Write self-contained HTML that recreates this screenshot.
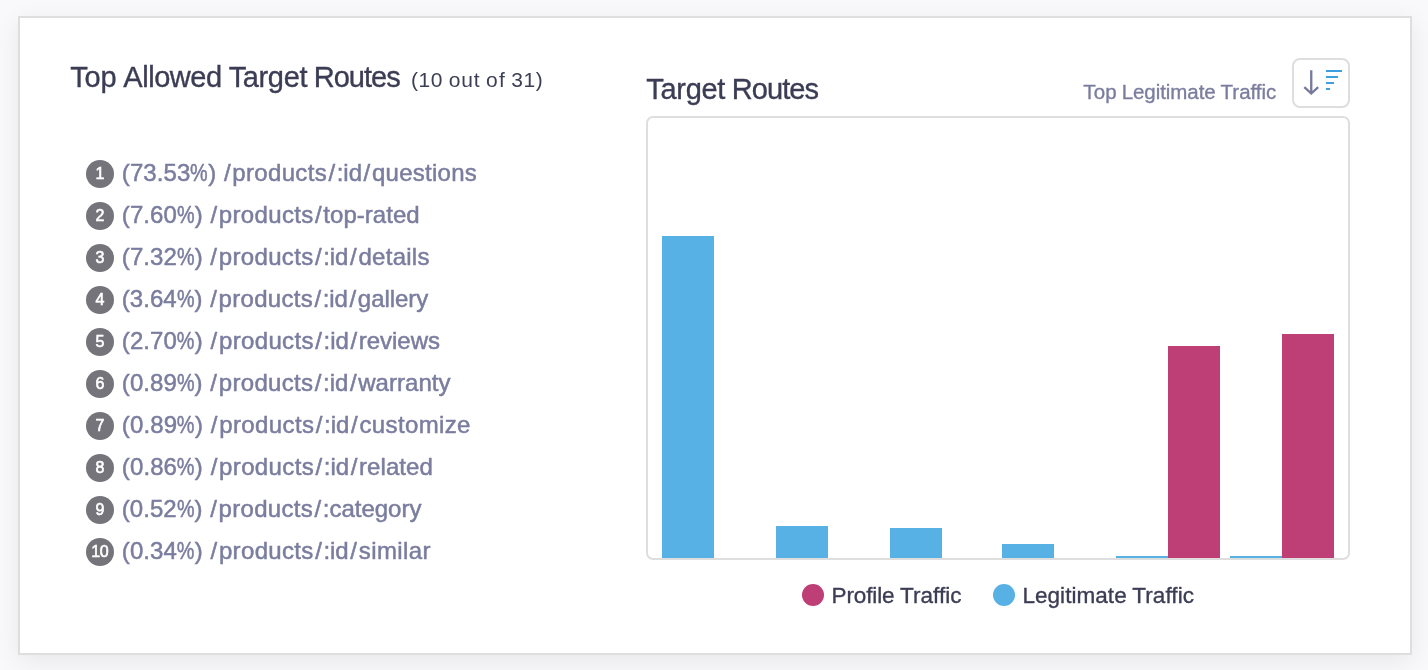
<!DOCTYPE html>
<html lang="en">
<head>
<meta charset="utf-8">
<title>Top Allowed Target Routes</title>
<style>
  html, body { margin: 0; padding: 0; }
  body {
    width: 1428px; height: 670px; overflow: hidden; position: relative;
    background: #f9f9fb;
    font-family: "Liberation Sans", sans-serif;
    color: #3b3d54;
    -webkit-text-stroke: 0.35px currentColor;
  }
  .card {
    position: absolute; left: 18px; top: 16px; width: 1390px; height: 635px;
    background: #fff; border: 2px solid #dedede;
    box-shadow: 0 6px 24px rgba(0,0,10,0.075);
  }
  .abs { position: absolute; white-space: nowrap; }
  .sx { display: inline-block; white-space: nowrap; }
  h2 { margin: 0; font-weight: normal; }
  .title-left { left: 70px; top: 60px; font-size: 28px; line-height: 34px; }
  .count { left: 412px; top: 64px; font-size: 22px; line-height: 30px; -webkit-text-stroke-width: 0; color: #3c3e55; }
  .title-right { left: 646px; top: 72px; font-size: 28px; line-height: 34px; }
  .sortlabel { left: 1082px; top: 78px; font-size: 20px; line-height: 28px; color: #7a7d9e; }
  .sortbtn {
    position: absolute; left: 1292px; top: 58px; width: 54px; height: 46px;
    border: 2px solid #dedede; border-radius: 8px; background: #fff;
  }
  .sortbtn svg { position: absolute; left: -2px; top: -2px; }
  .chart {
    position: absolute; left: 646px; top: 116px; width: 700px; height: 440px;
    border: 2px solid #dedede; border-radius: 7px; background: #fff; overflow: hidden;
  }
  .bar { position: absolute; bottom: 0; width: 52px; }
  .blue { background: #58b1e4; }
  .pink { background: #be3f76; }
  ol.routes { list-style: none; margin: 0; padding: 0; position: absolute; left: 86px; top: 153px; }
  ol.routes li { height: 42px; position: relative; white-space: nowrap; }
  .num {
    position: absolute; left: 0; top: 7px; width: 28px; height: 28px; border-radius: 50%;
    background: #75747b; color: #fff; font-size: 16px; line-height: 28px; text-align: center;
    -webkit-text-stroke: 0.6px #fff;
  }
  .n10 { letter-spacing: -0.3px; text-indent: -0.3px; }
  .route { position: absolute; left: 37px; top: 4px; font-size: 24px; line-height: 32px; color: #7a7d9e; -webkit-text-stroke-width: 0.5px; }
  .legend { top: 580px; font-size: 22px; line-height: 30px; }
  .dot { position: absolute; width: 22px; height: 22px; border-radius: 50%; top: 584px; }
</style>
</head>
<body>
<div class="card"></div>

<h2 class="abs title-left" style="margin-left:0.16px;margin-top:0px;font-size:29px"><span class="sx" id="t1" style="word-spacing:-1.19px"><span style="letter-spacing:-0.09px;margin-left:-0.04px;margin-right:0.04px">Top</span> <span style="letter-spacing:-0.45px;margin-left:-0.23px;margin-right:0.23px">Allowed</span> <span style="letter-spacing:-0.36px;margin-left:-0.18px;margin-right:0.18px">Target</span> <span style="letter-spacing:-0.96px;margin-left:-0.48px;margin-right:0.48px">Routes</span></span></h2>
<div class="abs count" style="margin-left:-1.24px;margin-top:1px;font-size:21px"><span class="sx" id="t2" style="word-spacing:-0.41px"><span style="letter-spacing:0.56px;margin-left:0.28px;margin-right:-0.28px">(10</span> <span style="letter-spacing:0.82px;margin-left:0.41px;margin-right:-0.41px">out</span> <span style="letter-spacing:1.28px;margin-left:0.64px;margin-right:-0.64px">of</span> <span style="letter-spacing:0.61px;margin-left:0.3px;margin-right:-0.3px">31</span><span style="margin:0 0.31px">)</span></span></div>

<ol class="routes">
  <li><span class="num">1</span><span class="route" style="margin-left:-1.21px;margin-top:0px;font-size:24px"><span class="sx" id="r1" style="word-spacing:-0.71px"><span style="letter-spacing:0.08px;margin-left:0.04px;margin-right:-0.04px">(73.53</span><span style="display:inline-block;transform:scaleX(0.824);margin:0 -1.87px">%</span><span style="margin:0 0.18px">)</span> <span style="margin:0 1.62px">/</span><span style="letter-spacing:0.33px;margin-left:0.17px;margin-right:-0.17px">products</span><span style="margin:0 1.62px">/</span><span style="letter-spacing:-0.05px;margin-left:-0.03px;margin-right:0.03px">:id</span><span style="margin:0 1.62px">/</span><span style="letter-spacing:0.26px;margin-left:0.13px;margin-right:-0.13px">questions</span></span></span></li>
  <li><span class="num">2</span><span class="route" style="margin-left:-1.21px;margin-top:0px;font-size:24px"><span class="sx" id="r2" style="word-spacing:-0.71px"><span style="letter-spacing:0.07px;margin-left:0.04px;margin-right:-0.04px">(7.60</span><span style="display:inline-block;transform:scaleX(0.824);margin:0 -1.87px">%</span><span style="margin:0 0.18px">)</span> <span style="margin:0 1.62px">/</span><span style="letter-spacing:0.34px;margin-left:0.17px;margin-right:-0.17px">products</span><span style="margin:0 1.62px">/</span><span style="letter-spacing:0.03px;margin-left:0.01px;margin-right:-0.01px">top-rated</span></span></span></li>
  <li><span class="num">3</span><span class="route" style="margin-left:-1.21px;margin-top:0px;font-size:24px"><span class="sx" id="r3" style="word-spacing:-0.72px"><span style="letter-spacing:0.07px;margin-left:0.04px;margin-right:-0.04px">(7.32</span><span style="display:inline-block;transform:scaleX(0.824);margin:0 -1.88px">%</span><span style="margin:0 0.18px">)</span> <span style="margin:0 1.62px">/</span><span style="letter-spacing:0.33px;margin-left:0.17px;margin-right:-0.17px">products</span><span style="margin:0 1.62px">/</span><span style="letter-spacing:-0.05px;margin-left:-0.03px;margin-right:0.03px">:id</span><span style="margin:0 1.62px">/</span><span style="letter-spacing:0.27px;margin-left:0.14px;margin-right:-0.14px">details</span></span></span></li>
  <li><span class="num">4</span><span class="route" style="margin-left:-1.2px;margin-top:0px;font-size:24px"><span class="sx" id="r4" style="word-spacing:-0.73px"><span style="letter-spacing:0.04px;margin-left:0.02px;margin-right:-0.02px">(3.64</span><span style="display:inline-block;transform:scaleX(0.822);margin:0 -1.9px">%</span><span style="margin:0 0.17px">)</span> <span style="margin:0 1.61px">/</span><span style="letter-spacing:0.3px;margin-left:0.15px;margin-right:-0.15px">products</span><span style="margin:0 1.61px">/</span><span style="letter-spacing:-0.07px;margin-left:-0.04px;margin-right:0.04px">:id</span><span style="margin:0 1.61px">/</span><span style="letter-spacing:-0.03px;margin-left:-0.01px;margin-right:0.01px">gallery</span></span></span></li>
  <li><span class="num">5</span><span class="route" style="margin-left:-1.21px;margin-top:0px;font-size:24px"><span class="sx" id="r5" style="word-spacing:-0.71px"><span style="letter-spacing:0.08px;margin-left:0.04px;margin-right:-0.04px">(2.70</span><span style="display:inline-block;transform:scaleX(0.825);margin:0 -1.87px">%</span><span style="margin:0 0.19px">)</span> <span style="margin:0 1.63px">/</span><span style="letter-spacing:0.35px;margin-left:0.17px;margin-right:-0.17px">products</span><span style="margin:0 1.63px">/</span><span style="letter-spacing:-0.04px;margin-left:-0.02px;margin-right:0.02px">:id</span><span style="margin:0 1.63px">/</span><span style="letter-spacing:-0.01px;margin-left:-0.01px;margin-right:0.01px">reviews</span></span></span></li>
  <li><span class="num">6</span><span class="route" style="margin-left:-1.2px;margin-top:0px;font-size:24px"><span class="sx" id="r6" style="word-spacing:-0.72px"><span style="letter-spacing:0.06px;margin-left:0.03px;margin-right:-0.03px">(0.89</span><span style="display:inline-block;transform:scaleX(0.824);margin:0 -1.88px">%</span><span style="margin:0 0.18px">)</span> <span style="margin:0 1.62px">/</span><span style="letter-spacing:0.32px;margin-left:0.16px;margin-right:-0.16px">products</span><span style="margin:0 1.62px">/</span><span style="letter-spacing:-0.06px;margin-left:-0.03px;margin-right:0.03px">:id</span><span style="margin:0 1.62px">/</span><span style="letter-spacing:0.05px;margin-left:0.03px;margin-right:-0.03px">warranty</span></span></span></li>
  <li><span class="num">7</span><span class="route" style="margin-left:-1.21px;margin-top:0px;font-size:24px"><span class="sx" id="r7" style="word-spacing:-0.69px"><span style="letter-spacing:0.11px;margin-left:0.06px;margin-right:-0.06px">(0.89</span><span style="display:inline-block;transform:scaleX(0.827);margin:0 -1.84px">%</span><span style="margin:0 0.2px">)</span> <span style="margin:0 1.64px">/</span><span style="letter-spacing:0.38px;margin-left:0.19px;margin-right:-0.19px">products</span><span style="margin:0 1.64px">/</span><span style="letter-spacing:-0.02px;margin-left:-0.01px;margin-right:0.01px">:id</span><span style="margin:0 1.64px">/</span><span style="letter-spacing:0.37px;margin-left:0.18px;margin-right:-0.18px">customize</span></span></span></li>
  <li><span class="num">8</span><span class="route" style="margin-left:-1.21px;margin-top:0px;font-size:24px"><span class="sx" id="r8" style="word-spacing:-0.7px"><span style="letter-spacing:0.1px;margin-left:0.05px;margin-right:-0.05px">(0.86</span><span style="display:inline-block;transform:scaleX(0.826);margin:0 -1.85px">%</span><span style="margin:0 0.19px">)</span> <span style="margin:0 1.63px">/</span><span style="letter-spacing:0.36px;margin-left:0.18px;margin-right:-0.18px">products</span><span style="margin:0 1.63px">/</span><span style="letter-spacing:-0.03px;margin-left:-0.01px;margin-right:0.01px">:id</span><span style="margin:0 1.63px">/</span><span style="letter-spacing:0.07px;margin-left:0.04px;margin-right:-0.04px">related</span></span></span></li>
  <li><span class="num">9</span><span class="route" style="margin-left:-1.2px;margin-top:0px;font-size:24px"><span class="sx" id="r9" style="word-spacing:-0.73px"><span style="letter-spacing:0.04px;margin-left:0.02px;margin-right:-0.02px">(0.52</span><span style="display:inline-block;transform:scaleX(0.822);margin:0 -1.9px">%</span><span style="margin:0 0.17px">)</span> <span style="margin:0 1.61px">/</span><span style="letter-spacing:0.3px;margin-left:0.15px;margin-right:-0.15px">products</span><span style="margin:0 1.61px">/</span><span style="letter-spacing:-0.01px;margin-left:-0.01px;margin-right:0.01px">:category</span></span></span></li>
  <li><span class="num n10">10</span><span class="route" style="margin-left:-1.21px;margin-top:0px;font-size:24px"><span class="sx" id="r10" style="word-spacing:-0.71px"><span style="letter-spacing:0.08px;margin-left:0.04px;margin-right:-0.04px">(0.34</span><span style="display:inline-block;transform:scaleX(0.825);margin:0 -1.87px">%</span><span style="margin:0 0.19px">)</span> <span style="margin:0 1.62px">/</span><span style="letter-spacing:0.34px;margin-left:0.17px;margin-right:-0.17px">products</span><span style="margin:0 1.62px">/</span><span style="letter-spacing:-0.04px;margin-left:-0.02px;margin-right:0.02px">:id</span><span style="margin:0 1.62px">/</span><span style="letter-spacing:0.42px;margin-left:0.21px;margin-right:-0.21px">similar</span></span></span></li>
</ol>

<h2 class="abs title-right" style="margin-left:0.4px;margin-top:0px;font-size:29px"><span class="sx" id="t3" style="word-spacing:-1.16px"><span style="letter-spacing:-0.3px;margin-left:-0.15px;margin-right:0.15px">Target</span> <span style="letter-spacing:-0.89px;margin-left:-0.45px;margin-right:0.45px">Routes</span></span></h2>
<div class="abs sortlabel" style="margin-left:1.29px;margin-top:0px;font-size:20.5px"><span class="sx" id="t4" style="word-spacing:-0.76px"><span style="letter-spacing:0.13px;margin-left:0.07px;margin-right:-0.07px">Top</span> <span style="letter-spacing:-0.06px;margin-left:-0.03px;margin-right:0.03px">Legitimate</span> <span style="letter-spacing:-0.01px;margin-left:-0.01px;margin-right:0.01px">Traffic</span></span></div>
<div class="sortbtn">
  <svg width="58" height="50" viewBox="0 0 58 50" fill="none">
    <path d="M19.25 12.3 V35.5 M12.3 29.2 L19.25 35.5 L26.2 29.2" stroke="#77789a" stroke-width="2.3" fill="none"/>
    <path d="M34 13H50M34 19H46M34 25H42M34 31H38" stroke="#3d9fe0" stroke-width="2"/>
  </svg>
</div>

<div class="chart">
  <div class="bar blue" style="left:14px;height:322px"></div>
  <div class="bar blue" style="left:128px;height:32px"></div>
  <div class="bar blue" style="left:242px;height:30px"></div>
  <div class="bar blue" style="left:354px;height:14px"></div>
  <div class="bar blue" style="left:468px;height:2px"></div>
  <div class="bar pink" style="left:520px;height:212px"></div>
  <div class="bar blue" style="left:582px;height:2px"></div>
  <div class="bar pink" style="left:634px;height:224px"></div>
</div>

<span class="dot pink" style="left:802px"></span>
<div class="abs legend" style="left:833px;margin-left:-1.43px;margin-top:1px;font-size:22.5px"><span class="sx" id="t5" style="word-spacing:-0.79px"><span style="letter-spacing:-0.12px;margin-left:-0.06px;margin-right:0.06px">Profile</span> <span style="letter-spacing:0.06px;margin-left:0.03px;margin-right:-0.03px">Traffic</span></span></div>
<span class="dot blue" style="left:993px"></span>
<div class="abs legend" style="left:1024px;margin-left:-1.61px;margin-top:1px;font-size:22.5px"><span class="sx" id="t6" style="word-spacing:-0.77px"><span style="letter-spacing:0.05px;margin-left:0.03px;margin-right:-0.03px">Legitimate</span> <span style="letter-spacing:0.09px;margin-left:0.04px;margin-right:-0.04px">Traffic</span></span></div>
</body>
</html>
